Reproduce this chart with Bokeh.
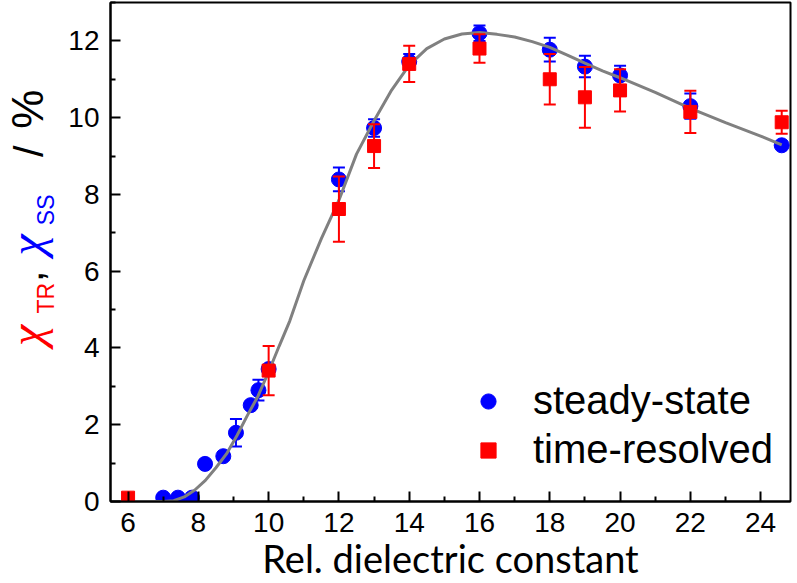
import numpy as np
from bokeh.plotting import figure
from bokeh.layouts import row
from bokeh.models import ColumnDataSource, FixedTicker, Legend, LegendItem, Range1d
from bokeh.core.properties import value
from bokeh.embed import file_html
from bokeh.resources import INLINE

# ---- data ----
# steady-state (blue circles)
ss_x = [7.0, 7.42, 7.82, 8.19, 8.71, 9.07, 9.49, 9.71, 10.0, 12.0, 13.0, 14.0, 16.0, 18.0, 19.0, 20.0, 22.0, 24.6]
ss_y = [0.1, 0.1, 0.1, 0.98, 1.18, 1.79, 2.51, 2.9, 3.45, 8.39, 9.73, 11.46, 12.2, 11.77, 11.33, 11.1, 10.3, 9.28]
ss_err = [0, 0, 0, 0, 0.1, 0.36, 0, 0.27, 0, 0.31, 0.23, 0.2, 0.2, 0.31, 0.28, 0.25, 0.33, 0]

# time-resolved (red squares)
tr_x = [6.0, 10.0, 12.0, 13.0, 14.0, 16.0, 18.0, 19.0, 20.0, 22.0, 24.6]
tr_y = [0.1, 3.41, 7.62, 9.26, 11.4, 11.8, 11.0, 10.53, 10.71, 10.15, 9.88]
tr_err = [0, 0.64, 0.85, 0.57, 0.47, 0.37, 0.66, 0.79, 0.55, 0.55, 0.3]

# fitted curve (grey)
fit_x = [6.0, 6.5, 7.0, 7.3, 7.6, 7.9, 8.2, 8.5, 8.8, 9.1, 9.4, 9.7, 10.0, 10.3, 10.6, 11.0, 11.5,
         12.0, 12.5, 13.0, 13.5, 14.0, 14.5, 15.0, 15.5, 16.0, 16.5, 17.0, 17.5, 18.0, 18.5, 19.0,
         19.5, 20.0, 21.0, 22.0, 23.0, 24.0, 24.6]
fit_y = [0.0, 0.0, 0.0, 0.02, 0.12, 0.3, 0.55, 0.88, 1.24, 1.72, 2.25, 2.75, 3.38, 4.05, 4.7, 5.75, 6.85,
         7.85, 9.05, 9.92, 10.72, 11.37, 11.8, 12.05, 12.18, 12.22, 12.17, 12.1, 11.98, 11.83, 11.63, 11.42,
         11.22, 11.04, 10.66, 10.24, 9.87, 9.52, 9.29]

x_ticks = [6, 8, 10, 12, 14, 16, 18, 20, 22, 24]
x_minor = [5, 7, 9, 11, 13, 15, 17, 19, 21, 23, 25]
y_ticks = [0, 2, 4, 6, 8, 10, 12]
y_minor = [1, 3, 5, 7, 9, 11, 13]

x_title = "Rel. dielectric constant"
leg_ss = "steady-state"
leg_tr = "time-resolved"

BLUE = "#0000ff"
RED = "#ff0000"

W, H = 797, 583
SIDE_W = 64
BL, BR, BT, BB = 110 - SIDE_W, 7, 2, 78

# ---------------- main plot ----------------
p = figure(width=W - SIDE_W, height=H, x_range=Range1d(5.5, 24.85), y_range=Range1d(0, 13),
           output_backend="svg", toolbar_location=None,
           min_border_left=BL, min_border_right=BR, min_border_top=BT, min_border_bottom=BB)
p.background_fill_color = "white"
p.border_fill_color = "white"
p.outline_line_color = "black"
p.outline_line_width = 2
p.xgrid.visible = False
p.ygrid.visible = False

p.xaxis.ticker = FixedTicker(ticks=x_ticks, minor_ticks=x_minor)
p.yaxis.ticker = FixedTicker(ticks=y_ticks, minor_ticks=y_minor)
for ax in (p.xaxis[0], p.yaxis[0]):
    ax.axis_line_width = 2
    ax.axis_line_color = "black"
    ax.major_tick_in = 10
    ax.major_tick_out = 0
    ax.minor_tick_in = 5
    ax.minor_tick_out = 0
    ax.major_tick_line_width = 2
    ax.minor_tick_line_width = 2
    ax.major_tick_line_color = "black"
    ax.minor_tick_line_color = "black"
    ax.major_label_text_font = "Liberation Sans"
    ax.major_label_text_font_size = "28px"
    ax.major_label_text_color = "black"
p.xaxis.major_label_standoff = 11
p.yaxis.major_label_standoff = 11

p.xaxis.axis_label = x_title
p.xaxis.axis_label_text_font = "Lato"
p.xaxis.axis_label_text_font_size = "38px"
p.xaxis.axis_label_text_font_style = "normal"
p.xaxis.axis_label_text_color = "black"
p.xaxis.axis_label_standoff = 0

# sources
ss_src = ColumnDataSource(dict(x=ss_x, y=ss_y))
tr_src = ColumnDataSource(dict(x=tr_x, y=tr_y))
ss_e = [(x, y, e) for x, y, e in zip(ss_x, ss_y, ss_err) if e > 0]
tr_e = [(x, y, e) for x, y, e in zip(tr_x, tr_y, tr_err) if e > 0]
ss_err_src = ColumnDataSource(dict(x=[a[0] for a in ss_e], lo=[a[1] - a[2] for a in ss_e], hi=[a[1] + a[2] for a in ss_e]))
tr_err_src = ColumnDataSource(dict(x=[a[0] for a in tr_e], lo=[a[1] - a[2] for a in tr_e], hi=[a[1] + a[2] for a in tr_e]))

# steady-state layer
p.segment(x0="x", y0="lo", x1="x", y1="hi", source=ss_err_src, line_color=BLUE, line_width=2)
p.scatter(x="x", y="hi", source=ss_err_src, marker="dash", size=12, line_color=BLUE, line_width=2)
p.scatter(x="x", y="lo", source=ss_err_src, marker="dash", size=12, line_color=BLUE, line_width=2)
r_ss = p.scatter(x="x", y="y", source=ss_src, marker="circle", size=15, fill_color=BLUE, line_color=BLUE)

# fit line
p.line(fit_x, fit_y, line_color="#808080", line_width=3)

# time-resolved layer
p.segment(x0="x", y0="lo", x1="x", y1="hi", source=tr_err_src, line_color=RED, line_width=2)
p.scatter(x="x", y="hi", source=tr_err_src, marker="dash", size=12, line_color=RED, line_width=2)
p.scatter(x="x", y="lo", source=tr_err_src, marker="dash", size=12, line_color=RED, line_width=2)
r_tr = p.scatter(x="x", y="y", source=tr_src, marker="square", size=13, fill_color=RED, line_color=RED)

legend = Legend(items=[LegendItem(label=leg_ss, renderers=[r_ss]),
                       LegendItem(label=leg_tr, renderers=[r_tr])],
                location=(359, 29), orientation="vertical",
                glyph_width=38, glyph_height=44, label_standoff=26, spacing=4,
                padding=0, margin=0, border_line_color=None, background_fill_alpha=0,
                label_text_font="Liberation Sans", label_text_font_size="40px",
                label_text_color="black")
p.add_layout(legend, "center")

# ---------------- y-axis title strip (coloured pieces, rotated) ----------------
# its frame is aligned with the main frame (page rows BT .. H-BB); data y = page distance from the bottom
side = figure(width=SIDE_W, height=H, x_range=Range1d(0, SIDE_W), y_range=Range1d(BB, H - BT),
              output_backend="svg", toolbar_location=None, x_axis_type=None, y_axis_type=None,
              min_border_left=0, min_border_right=0, min_border_top=BT, min_border_bottom=BB)
side.outline_line_color = None
side.background_fill_color = "white"
side.border_fill_color = "white"
side.xgrid.visible = False
side.ygrid.visible = False

pieces = [
    ("\u03c7", 25.7, 245.5, RED, "Liberation Serif", "italic", "48px"),
    ("TR", 45.4, 283, RED, "Liberation Sans", "normal", "23px"),
    (",", 28.0, 305, "black", "Liberation Sans", "normal", "41px"),
    ("\u03c7", 25.7, 336.5, BLUE, "Liberation Serif", "italic", "48px"),
    ("SS", 45.4, 372, BLUE, "Liberation Sans", "normal", "23px"),
    ("/", 28.0, 431, "black", "Liberation Sans", "normal", "41px"),
    ("%", 27.0, 473.5, "black", "Liberation Sans", "normal", "44px"),
]
for txt, xx, yy, col, font, style, size in pieces:
    side.text(x=[xx], y=[yy], text=[txt], angle=np.pi / 2,
              text_color=col, text_font=value(font), text_font_style=style,
              text_font_size=value(size), text_align="center", text_baseline="middle")

layout = row(side, p, spacing=0)
open("out.html", "w").write(file_html(layout, INLINE))
